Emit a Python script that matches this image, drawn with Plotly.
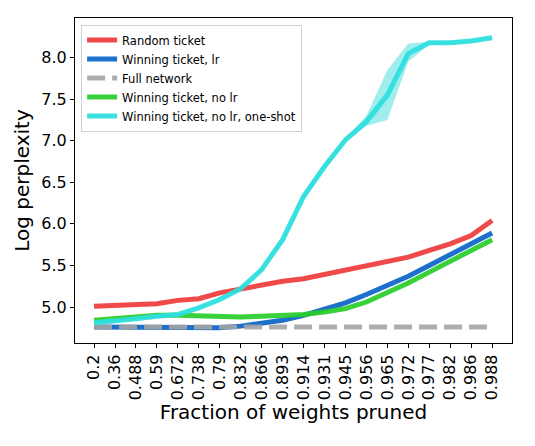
import plotly.graph_objects as go

fractions = ['0.2', '0.36', '0.488', '0.59', '0.672', '0.738', '0.79', '0.832', '0.866', '0.893',
             '0.914', '0.931', '0.945', '0.956', '0.965', '0.972', '0.977', '0.982', '0.986', '0.988']

random_ticket = [5.01, 5.02, 5.02, 5.04, 5.08, 5.10, 5.17, 5.22, 5.26, 5.31,
                 5.34, 5.39, 5.44, 5.50, 5.54, 5.60, 5.68, 5.76, 5.86, 6.04]
winning_lr = [4.76, 4.76, 4.755, 4.755, 4.75, 4.75, 4.75, 4.77, 4.80, 4.84,
              4.90, 4.98, 5.05, 5.15, 5.26, 5.37, 5.50, 5.63, 5.75, 5.89]
full_network = [4.76] * 20
winning_no_lr = [4.84, 4.86, 4.87, 4.90, 4.90, 4.89, 4.89, 4.88, 4.89, 4.90,
                 4.91, 4.94, 4.98, 5.06, 5.17, 5.29, 5.42, 5.55, 5.68, 5.81]
one_shot = [4.81, 4.83, 4.86, 4.89, 4.91, 4.99, 5.09, 5.22, 5.45, 5.81,
            6.33, 6.69, 7.01, 7.23, 7.55, 8.05, 8.18, 8.18, 8.20, 8.24]
one_shot_hi = [4.82, 4.84, 4.87, 4.90, 4.92, 5.00, 5.10, 5.23, 5.47, 5.84,
               6.37, 6.72, 7.03, 7.30, 7.85, 8.17, 8.19, 8.19, 8.21, 8.26]
one_shot_lo = [4.80, 4.82, 4.85, 4.88, 4.90, 4.98, 5.08, 5.21, 5.43, 5.78,
               6.29, 6.66, 6.99, 7.18, 7.25, 7.95, 8.16, 8.17, 8.19, 8.22]

# (name, values, colour, dash)
series = [
    ('Random ticket', random_ticket, 'rgba(238,58,58,0.92)', 'solid'),
    ('Winning ticket, lr', winning_lr, 'rgba(10,100,200,0.92)', 'solid'),
    ('Full network', full_network, 'rgba(165,165,165,0.9)', '18px,7px'),
    ('Winning ticket, no lr', winning_no_lr, 'rgba(40,205,40,0.92)', 'solid'),
    ('Winning ticket, no lr, one-shot', one_shot, 'rgba(45,222,222,0.92)', 'solid'),
]

data = []
for name, vals, col, dash in series:
    if name.endswith('one-shot'):
        # shaded band round the one-shot curve
        data.append(go.Scatter(x=fractions, y=one_shot_hi, mode='lines',
                               line=dict(width=0), showlegend=False, hoverinfo='skip'))
        data.append(go.Scatter(x=fractions, y=one_shot_lo, mode='lines', fill='tonexty',
                               fillcolor='rgba(45,215,215,0.45)', line=dict(width=0),
                               showlegend=False, hoverinfo='skip'))
    data.append(go.Scatter(x=fractions, y=vals, name=name, mode='lines',
                           line=dict(color=col, width=5, dash=dash)))

axis_style = dict(showline=True, linecolor='black', linewidth=1.2, mirror=True,
                  ticks='outside', ticklen=4, tickcolor='black', showgrid=False,
                  zeroline=False, tickfont=dict(size=16, color='black'))

# page body has an 8px margin, so the figure is a bit smaller than the window
layout = go.Layout(
    width=527, height=438,
    margin=dict(l=67, r=23, t=10, b=103),
    paper_bgcolor='white', plot_bgcolor='white',
    font=dict(family='DejaVu Sans', color='black'),
    xaxis=dict(axis_style, type='category', tickangle=-90, range=[-0.91, 19.95],
               title=dict(text='Fraction of weights pruned', font=dict(size=20), standoff=4)),
    yaxis=dict(axis_style, range=[4.567, 8.477], tickvals=[5.0, 5.5, 6.0, 6.5, 7.0, 7.5, 8.0],
               tickformat='.1f',
               title=dict(text='Log perplexity', font=dict(size=20), standoff=6)),
    legend=dict(x=0.014, y=0.98, xanchor='left', yanchor='top', traceorder='normal',
                bgcolor='rgba(255,255,255,0.8)', bordercolor='#d0d0d0', borderwidth=1,
                font=dict(size=11.5), tracegroupgap=0),
    showlegend=True,
)

fig = go.Figure(data=data, layout=layout)
fig.write_html('out.html')
